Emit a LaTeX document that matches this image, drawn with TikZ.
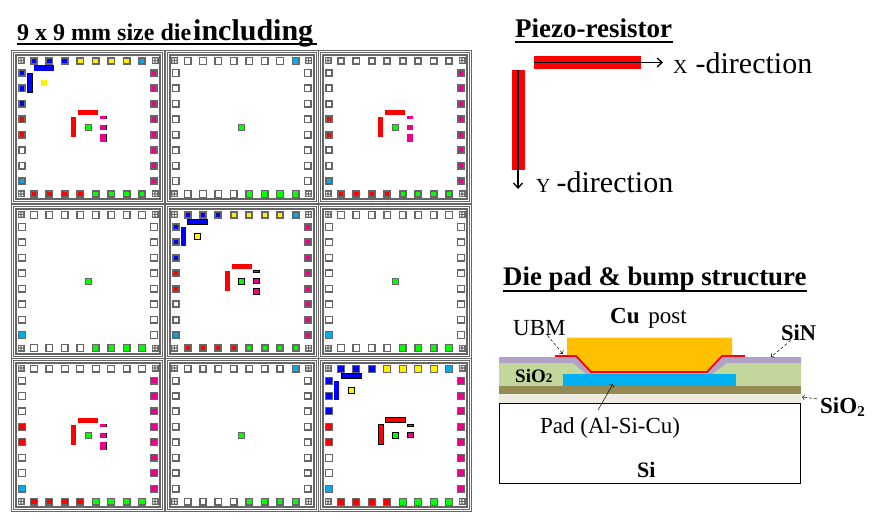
\documentclass[tikz,border=0pt]{standalone}
\usepackage{fontspec}
\setmainfont{Liberation Serif}
\usetikzlibrary{arrows.meta}
\definecolor{padgray}{HTML}{666666}
\definecolor{cupost}{HTML}{FFC000}
\definecolor{padblue}{HTML}{00B0F0}
\definecolor{sinlayer}{HTML}{B2A2C7}
\definecolor{oxgreen}{HTML}{C3D69B}
\definecolor{brownlayer}{HTML}{948A54}
\definecolor{oxlight}{HTML}{EEECE1}
\tikzset{
   lbl/.style={anchor=base west,inner sep=0pt},
   head/.style={lbl,font=\bfseries\fontsize{#1}{#1}\selectfont},
   body/.style={lbl,font=\fontsize{#1}{#1}\selectfont},
   leader/.style={->,line width=0.5pt},
   dirarrow/.style={-{Straight Barb[length=5pt,width=9pt]},line width=1.3pt},
   outl/.style={draw=black,line width=1pt},
   bare/.style={},
   corner/.style={fill=padgray},
}
\newcommand{\topfull}{blue,blue,blue,yellow,yellow,yellow,yellow,cyan}
\newcommand{\topcyan}{white,white,white,white,white,white,white,cyan}
\newcommand{\allwhite}{white,white,white,white,white,white,white,white}
\newcommand{\leftfull}{blue,blue,blue,red,red,white,white,cyan}
\newcommand{\leftmid}{white,white,white,red,red,white,white,cyan}
\newcommand{\leftcyan}{white,white,white,white,white,white,white,cyan}
\newcommand{\allmag}{magenta,magenta,magenta,magenta,magenta,magenta,magenta,magenta}
\newcommand{\botfull}{red,red,red,red,green,green,green,green}
\newcommand{\botgreen}{white,white,white,white,green,green,green,green}
% x, y, line width of the pads, green centre style, then top, left, right, bottom pad colours
\newcommand{\diepads}[8]{
   \begin{scope}[shift={(#1,#2)}]
      \draw[padgray,line width=1pt] (-76.5,-76.5) rectangle (76.5,76.5);
      \draw[padgray,line width=1pt] (-74.5,-74.5) rectangle (74.5,74.5);
      \draw[padgray,line width=2pt] (-72,-72) rectangle (72,72);
      \pgfmathsetmacro{\padh}{4-#3/2}
      \tikzset{padbox/.style={draw=padgray,line width=#3pt,fill=##1}}
      \foreach \c [count=\i from 0] in #5 {
         \draw[padbox=\c,shift={(-54+15.43*\i,-66.5)}] (-\padh,-\padh) rectangle (\padh,\padh);}
      \foreach \c [count=\i from 0] in #6 {
         \draw[padbox=\c,shift={(-66,-54.5+15.43*\i)}] (-\padh,-\padh) rectangle (\padh,\padh);}
      \foreach \c [count=\i from 0] in #7 {
         \draw[padbox=\c,shift={(66,-54.5+15.43*\i)}] (-\padh,-\padh) rectangle (\padh,\padh);}
      \foreach \c [count=\i from 0] in #8 {
         \draw[padbox=\c,shift={(-54+15.43*\i,66.5)}] (-\padh,-\padh) rectangle (\padh,\padh);}
      \foreach \a/\b in {-67/-67,67/-67,-67/66.5,67/66.5} {
         \fill[corner,shift={(\a,\b)}] (-3.5,-3.5) rectangle (3.5,3.5);
         \fill[white,shift={(\a,\b)}] (-2.2,-2.2) rectangle (-0.6,-0.6) (0.6,-2.2) rectangle (2.2,-0.6)
            (-2.2,0.6) rectangle (-0.6,2.2) (0.6,0.6) rectangle (2.2,2.2);}
      \draw[fill=green,#4] (-3,-3) rectangle (3,3);
   \end{scope}
}
\newcommand{\bluebars}[5]{
   \begin{scope}[shift={(#1,#2)}]
      \fill[blue,#3] (-54,-62) rectangle (-34,-56.5);
      \fill[blue,#4] (-61,-54) rectangle (-56,-35);
      \fill[yellow,#5] (-47,-47.5) rectangle (-41,-41.5);
   \end{scope}
}
\newcommand{\redbars}[3]{
   \begin{scope}[shift={(#1,#2)}]
      \fill[red,#3] (-10,-17.5) rectangle (10,-12.5);
      \fill[red,#3] (-17,-10.5) rectangle (-12,9.5);
   \end{scope}
}
\newcommand{\magbars}[4]{
   \begin{scope}[shift={(#1,#2)}]
      \foreach \a/\b in #4 {
         \fill[magenta,#3] (12,\a) rectangle (18,\b);}
   \end{scope}
}
\newcommand{\magedge}[3]{
   \begin{scope}[shift={(#1,#2)}]
      \foreach \a/\b in #3 {
         \draw[black,line width=1pt] (18.5,\a) -- (18.5,\b);}
   \end{scope}
}
\begin{document}
\begin{tikzpicture}[x=1pt,y=-1pt]
   \useasboundingbox[fill=white] (0,0) rectangle (875,521);

   \diepads{88}{127.5}{1.6}{draw=padgray}{\topfull}{\leftfull}{\allmag}{\botfull}
   \diepads{241.5}{127.5}{1.4}{draw=padgray}{\topcyan}{\allwhite}{\allwhite}{\botgreen}
   \diepads{395}{127.5}{1.8}{draw=padgray}{\allwhite}{\leftmid}{\allmag}{\botfull}
   \diepads{88}{281.5}{1.4}{draw=padgray}{\allwhite}{\leftcyan}{\allwhite}{\botgreen}
   \diepads{241.5}{281.5}{2}{outl}{\topfull}{\leftfull}{\allmag}{\botfull}
   \diepads{395}{281.5}{1.4}{draw=padgray}{\allwhite}{\leftcyan}{\allwhite}{\botgreen}
   \diepads{88}{435}{1.2}{draw=padgray}{\allwhite}{\leftmid}{\allmag}{\botfull}
   \diepads{241.5}{435}{1.6}{draw=padgray}{\topcyan}{\allwhite}{\allwhite}{\botgreen}
   \diepads{395}{435}{1}{outl}{\topfull}{\leftfull}{\allmag}{\botfull}

   \bluebars{88}{127.5}{bare}{outl}{bare}
   \bluebars{241.5}{281.5}{outl}{bare}{outl}
   \bluebars{395}{435}{outl}{bare}{outl}
   \redbars{88}{127.5}{bare}
   \redbars{395}{127.5}{bare}
   \redbars{241.5}{281.5}{bare}
   \redbars{88}{435}{bare}
   \redbars{395}{435}{outl}
   \magedge{88}{127.5}{{-11.5/-8.5,-2.5/2.5,6.5/14.5}}
   \magedge{88}{435}{{-11.5/-8.5,-2.5/2.5,6.5/14.5}}
   \magbars{88}{127.5}{bare}{{-11.5/-8.5,-2.5/2.5,6.5/14.5}}
   \magbars{395}{127.5}{bare}{{-11.5/-8.5,-2.5/2.5,6.5/14.5}}
   \magbars{241.5}{281.5}{outl}{{-11/-9,-2.5/2.5,6.5/13}}
   \magbars{88}{435}{bare}{{-11.5/-8.5,-2.5/2.5,6.5/14.5}}
   \magbars{395}{435}{outl}{{-11/-9,-2.5/2}}

   \node[head=24] (diehead) at (17,40.5) {9 x 9 mm size die\hspace{2pt}{\fontsize{30}{30}\selectfont including}};
   \draw[line width=1.2pt] (17,44) -- (317,44);

   \node[head=27] (piezohead) at (515,38) {Piezo-resistor};
   \draw[line width=1.2pt] (515,42) -- (673,42);
   \fill[red] (534,56) rectangle (641,69);
   \fill[red] (512,70) rectangle (525,170);
   \coordinate (xfrom) at (534,62.5);
   \coordinate (xtip) at (663,62.5);
   \coordinate (yfrom) at (518,70);
   \coordinate (ytip) at (518,189);
   \draw[dirarrow] (xfrom) -- (xtip);
   \draw[dirarrow] (yfrom) -- (ytip);
   \node[body=30] (xdir) at (673,74) {{\fontsize{20}{20}\selectfont X}\hspace{8pt}-direction};
   \node[body=30] (ydir) at (536,193) {{\fontsize{20}{20}\selectfont Y}\hspace{6pt}-direction};

   \node[head=26.8] (structhead) at (503,286) {Die pad \& bump structure};
   \draw[line width=1.2pt] (503,291) -- (807,291);

   \draw[black,fill=white,line width=0.8pt] (499.5,403.5) rectangle (800.5,483.5);
   \fill[oxlight] (499,394) rectangle (801,403);
   \fill[brownlayer] (499,386) rectangle (801,394);
   \fill[oxgreen] (499,363) rectangle (801,386);
   \fill[sinlayer] (499,357) -- (576,357) -- (591,372) -- (707,372) -- (722,357) -- (801,357)
      -- (801,363) -- (727,363) -- (712,374) -- (586,374) -- (573,363) -- (499,363) -- cycle;
   \fill[padblue] (563,374) rectangle (736,386);
   \fill[cupost] (567,337.5) -- (732,337.5) -- (732,356) -- (721,356) -- (707,372) -- (591,372) -- (576,356) -- (567,356) -- cycle;
   \draw[red,line width=1.8pt] (555,356) -- (576,356) -- (591,372) -- (707,372) -- (722,356) -- (745,356);

   \node[body=23] (culabel) at (610,323) {\textbf{Cu}\hspace{3pt} post};
   \node[body=23] (ubm) at (513,335) {UBM};
   \node[head=22.5] (sinlabel) at (781,340) {SiN};
   \node[head=19] (sioleft) at (515,382) {SiO{\fontsize{13}{13}\selectfont 2}};
   \node[head=23] (sioright) at (820,413) {SiO\raisebox{-3pt}{\fontsize{15}{15}\selectfont 2}};
   \node[body=23] (padlabel) at (540,433) {Pad (Al-Si-Cu)};
   \node[head=22] (silabel) at (637,477) {Si};
   \coordinate (ubmtip) at (563,354);
   \coordinate (sintip) at (771,357);
   \coordinate (siotip) at (802,397);
   \coordinate (padtip) at (613,384);
   \draw[leader,densely dashed] ([xshift=8pt]ubm.south) -- (ubmtip);
   \draw[leader,densely dashed] ([xshift=-8pt]sinlabel.south) -- (sintip);
   \draw[leader,densely dashed] ([shift={(-3pt,-2pt)}]sioright.north west) -- (siotip);
   \draw[leader] ([shift={(-12pt,7pt)}]padlabel.north) -- (padtip);
\end{tikzpicture}
\end{document}
